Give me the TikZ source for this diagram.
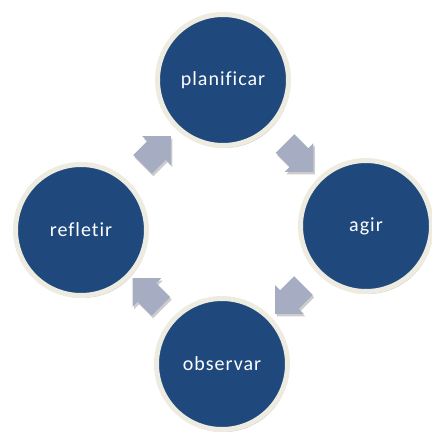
\documentclass[tikz,border=0pt]{standalone}
\usepackage{fontspec}
\usepackage{xcolor}
\usepackage{tikz}
\usetikzlibrary{shapes,arrows,positioning,calc,shadows}

\newfontfamily\stagefont[LetterSpace=5, Ligatures=NoCommon]{Carlito}

\definecolor{stageblue}{RGB}{31,73,125}
\definecolor{stagerim}{RGB}{238,236,225}
\definecolor{flowgray}{RGB}{166,173,194}

\tikzset{
  stage/.style={circle, minimum size=131pt, inner sep=0pt, fill=stageblue,
    draw=stagerim, line width=5pt, text=white, font=\stagefont\fontsize{20}{24}\selectfont,
    drop shadow={shadow xshift=1.5pt, shadow yshift=-2.5pt, opacity=0.22, fill=black}},
  flow/.style={single arrow, minimum height=40pt, inner xsep=0pt, inner ysep=13pt,
    single arrow head extend=7pt, fill=flowgray, draw=none,
    drop shadow={shadow xshift=1.5pt, shadow yshift=-2.5pt, opacity=0.2, fill=black}}
}

\begin{document}
\begin{tikzpicture}[x=1pt, y=-1pt]
        \useasboundingbox (0,0) rectangle (431,441);

        % Stages of the cycle
        \node[stage] (plan) at (223,80) {planificar};
        \node[stage] (agir) at (366,226) {agir};
        \node[stage] (obs) at (222,364) {observar};
        \node[stage] (refl) at (81,230) {refletir};

        % Block arrows between stages
        \node[flow, rotate=45] (a1) at ($(refl)!0.5!(plan)$) {};
        \node[flow, rotate=-45] (a2) at ($(plan)!0.5!(agir)$) {};
        \node[flow, rotate=-135] (a3) at ($(agir)!0.5!(obs)$) {};
        \node[flow, rotate=135] (a4) at ($(obs)!0.5!(refl)$) {};
    \end{tikzpicture}
\end{document}
